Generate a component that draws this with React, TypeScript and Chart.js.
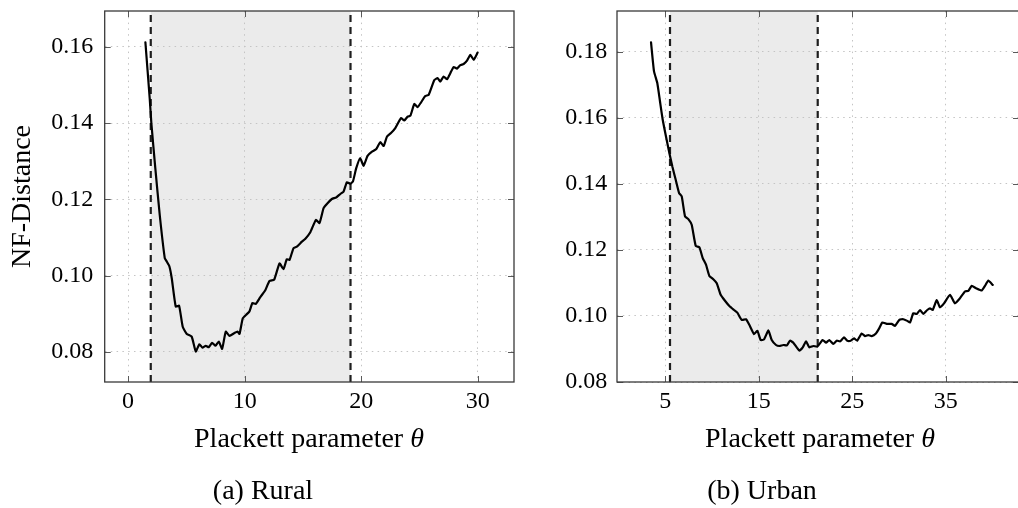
import React, { useEffect, useRef } from 'react';
import { Chart, registerables } from 'chart.js';

Chart.register(...registerables);

// ---------- data ----------
const ruralTheta = [
  1.49, 1.86, 2.0, 2.34, 2.72, 3.15, 3.3, 3.55, 3.75, 4.09, 4.38, 4.69, 5.04, 5.46, 5.81,
  6.12, 6.38, 6.67, 6.92, 7.21, 7.5, 7.78, 8.07, 8.38, 8.7, 9.1, 9.39, 9.56, 9.84, 10.19,
  10.41, 10.67, 10.96, 11.33, 11.76, 12.13, 12.53, 12.99, 13.33, 13.62, 13.85, 14.19, 14.48,
  14.91, 15.19, 15.62, 16.11, 16.42, 16.77, 17.11, 17.48, 17.85, 18.2, 18.48, 18.77, 19.06,
  19.29, 19.57, 19.91, 20.2, 20.54, 20.92, 21.29, 21.63, 21.92, 22.21, 22.55, 22.92, 23.41,
  23.69, 23.98, 24.21, 24.55, 24.83, 25.12, 25.49, 25.78, 26.27, 26.55, 26.78, 27.06, 27.36,
  27.64, 27.92, 28.21, 28.5, 28.78, 29.07, 29.36, 29.64, 29.98,
];
const ruralDist = [
  0.1612, 0.1465, 0.14, 0.1282, 0.1159, 0.1046, 0.1038, 0.1024, 0.0993, 0.0919, 0.0921, 0.0866,
  0.0847, 0.084, 0.0801, 0.082, 0.0811, 0.0816, 0.0812, 0.0824, 0.0816, 0.0827, 0.0808, 0.0853,
  0.0842, 0.0849, 0.0853, 0.0847, 0.0888, 0.0899, 0.0906, 0.0928, 0.0926, 0.0943, 0.0961,
  0.0986, 0.0989, 0.1032, 0.1017, 0.1043, 0.1041, 0.1072, 0.1076, 0.1089, 0.1096, 0.1113,
  0.1146, 0.1138, 0.1177, 0.119, 0.1201, 0.1205, 0.1214, 0.122, 0.1245, 0.1241, 0.1247,
  0.1282, 0.1308, 0.1288, 0.1314, 0.1325, 0.1332, 0.135, 0.134, 0.1365, 0.1374, 0.1387,
  0.1413, 0.1407, 0.1417, 0.1419, 0.145, 0.1442, 0.1454, 0.1471, 0.1474, 0.1513, 0.1518,
  0.1509, 0.1522, 0.1515, 0.1531, 0.1547, 0.1543, 0.1552, 0.1555, 0.1564, 0.1579, 0.1566,
  0.1585,
];
const urbanTheta = [
  3.47, 3.79, 4.14, 4.43, 4.72, 5.07, 5.43, 5.75, 6.11, 6.47, 6.75, 7.11, 7.46, 7.82, 8.25,
  8.64, 9.0, 9.35, 9.71, 10.13, 10.5, 10.92, 11.38, 11.85, 12.35, 12.7, 13.17, 13.63, 13.98,
  14.49, 14.84, 15.2, 15.56, 16.02, 16.38, 16.84, 17.19, 17.62, 18.0, 18.34, 18.69, 19.33,
  19.7, 20.05, 20.4, 20.83, 21.26, 21.83, 22.19, 22.54, 22.97, 23.33, 23.7, 24.11, 24.47,
  24.83, 25.18, 25.53, 26.0, 26.36, 26.71, 27.07, 27.53, 27.89, 28.21, 28.68, 29.21, 29.57,
  30.03, 30.45, 30.88, 31.17, 31.52, 31.89, 32.24, 32.59, 33.02, 33.31, 33.6, 34.03, 34.38,
  34.81, 35.45, 35.98, 36.45, 37.05, 37.41, 37.77, 38.23, 38.84, 39.19, 39.55, 40.02,
];
const urbanDist = [
  0.1828, 0.174, 0.1705, 0.1649, 0.1594, 0.1543, 0.1493, 0.1452, 0.1412, 0.1372, 0.1362,
  0.1301, 0.1293, 0.1276, 0.1212, 0.1208, 0.1175, 0.1155, 0.1121, 0.1111, 0.1099, 0.1064,
  0.1046, 0.103, 0.1018, 0.101, 0.0988, 0.099, 0.0973, 0.0945, 0.0955, 0.0927, 0.0929,
  0.0956, 0.0927, 0.0912, 0.0909, 0.0912, 0.0911, 0.0925, 0.0919, 0.0895, 0.0905, 0.0923,
  0.0905, 0.0909, 0.0907, 0.0927, 0.0919, 0.0927, 0.0915, 0.0925, 0.0923, 0.0935, 0.0925,
  0.0925, 0.0932, 0.0925, 0.0947, 0.0939, 0.0942, 0.0939, 0.0947, 0.0963, 0.098, 0.0976,
  0.0976, 0.097, 0.0988, 0.099, 0.0985, 0.098, 0.1008, 0.1006, 0.1018, 0.1006, 0.1018,
  0.1023, 0.1018, 0.1048, 0.1026, 0.1038, 0.1064, 0.1038, 0.1051, 0.1074, 0.1076, 0.1091,
  0.1084, 0.1077, 0.1091, 0.1107, 0.1094,
];

const ruralBand = [1.95, 19.08];
const urbanBand = [5.5, 21.3];

const ruralXTicks = [0, 10, 20, 30];
const ruralYTicks = [0.08, 0.1, 0.12, 0.14, 0.16];
const urbanXTicks = [5, 15, 25, 35];
const urbanYTicks = [0.08, 0.1, 0.12, 0.14, 0.16, 0.18];

const ruralXRange = [-2.0, 33.1];
const ruralYRange = [0.0721, 0.1694];
const urbanXRange = [-0.17, 42.83];
const urbanYRange = [0.08, 0.1923];

const xTitleText = 'Plackett parameter ';
const xTitleSymbol = 'θ';
const yTitle = 'NF-Distance';
const captions = ['(a) Rural', '(b) Urban'];

// ---------- styling ----------
const FONT = "'Liberation Serif', 'Times New Roman', serif";
const TICK_SIZE = 24;
const TITLE_SIZE = 28;
const CANVAS_H = 508;

const decorPlugin = {
  id: 'decor',
  beforeDraw(chart: any, _args: any, opts: any) {
    const { ctx, chartArea: a, scales } = chart;
    const band = opts.band as number[];
    if (!band) return;
    const x0 = scales.x.getPixelForValue(band[0]);
    const x1 = scales.x.getPixelForValue(band[1]);
    ctx.save();
    ctx.fillStyle = '#ebebeb';
    ctx.fillRect(x0, a.top, x1 - x0, a.bottom - a.top);
    ctx.restore();
  },
  afterDraw(chart: any) {
    const { ctx, chartArea: a, scales } = chart;
    ctx.save();
    ctx.strokeStyle = '#5a5a5a';
    ctx.lineWidth = 1;
    const L = 6;
    ctx.beginPath();
    for (const t of scales.x.ticks) {
      const px = Math.round(scales.x.getPixelForValue(t.value)) + 0.5;
      ctx.moveTo(px, a.bottom);
      ctx.lineTo(px, a.bottom - L);
      ctx.moveTo(px, a.top);
      ctx.lineTo(px, a.top + L);
    }
    for (const t of scales.y.ticks) {
      const py = Math.round(scales.y.getPixelForValue(t.value)) + 0.5;
      ctx.moveTo(a.left, py);
      ctx.lineTo(a.left + L, py);
      ctx.moveTo(a.right, py);
      ctx.lineTo(a.right - L, py);
    }
    ctx.stroke();
    ctx.strokeStyle = '#3a3a3a';
    ctx.lineWidth = 1.3;
    ctx.strokeRect(a.left, a.top, a.right - a.left, a.bottom - a.top);
    ctx.restore();
  },
};

type PanelProps = {
  theta: number[];
  dist: number[];
  band: number[];
  xTicks: number[];
  yTicks: number[];
  xRange: number[];
  yRange: number[];
  showYTitle: boolean;
  yAxisWidth: number;
  yTickPad: number;
  padRight: number;
  width: number;
  left: number;
};

function Panel(p: PanelProps) {
  const ref = useRef<HTMLCanvasElement | null>(null);
  useEffect(() => {
    if (!ref.current) return;
    const curve = p.theta.map((t, i) => ({ x: t, y: p.dist[i] }));
    const dashed = (v: number) => [
      { x: v, y: p.yRange[0] },
      { x: v, y: p.yRange[1] },
    ];
    const xAxisHeight = 73.1;
    const dashStyle = {
      borderColor: '#1e1e1e',
      borderWidth: 2.2,
      borderDash: [7, 5],
      pointRadius: 0,
      fill: false,
      order: 1,
    };
    const chart = new Chart(ref.current, {
      type: 'line',
      data: {
        datasets: [
          {
            data: curve,
            borderColor: '#000',
            borderWidth: 2.2,
            borderJoinStyle: 'round',
            borderCapStyle: 'round',
            pointRadius: 0,
            tension: 0.15,
            fill: false,
            order: 0,
          },
          { data: dashed(p.band[0]), ...dashStyle },
          { data: dashed(p.band[1]), ...dashStyle },
        ],
      },
      options: {
        responsive: false,
        animation: false,
        events: [],
        layout: {
          padding: { left: 0, top: 11, right: p.padRight, bottom: 126 - xAxisHeight },
        },
        plugins: {
          legend: { display: false },
          tooltip: { enabled: false },
          title: { display: false },
          decor: { band: p.band },
        } as any,
        scales: {
          x: {
            type: 'linear',
            min: p.xRange[0],
            max: p.xRange[1],
            border: { display: false, dash: [1.5, 4.3] },
            grid: { color: '#c4c4c4', lineWidth: 1, drawTicks: false },
            ticks: {
              autoSkip: false,
              maxRotation: 0,
              padding: 5.3,
              color: '#000',
              font: { family: FONT, size: TICK_SIZE },
              callback: (v: any) => String(v),
            },
            title: { display: false },
            afterBuildTicks: (s: any) => {
              s.ticks = p.xTicks.map((v) => ({ value: v }));
            },
            afterFit: (s: any) => {
              s.height = xAxisHeight;
              s.paddingLeft = 0;
              s.paddingRight = 0;
            },
          },
          y: {
            type: 'linear',
            min: p.yRange[0],
            max: p.yRange[1],
            border: { display: false, dash: [1.5, 4.3] },
            grid: { color: '#c4c4c4', lineWidth: 1, drawTicks: false },
            ticks: {
              autoSkip: false,
              padding: p.yTickPad,
              color: '#000',
              font: { family: FONT, size: TICK_SIZE },
              callback: (v: any) => Number(v).toFixed(2),
            },
            title: {
              display: p.showYTitle,
              text: yTitle,
              color: '#000',
              font: { family: FONT, size: TITLE_SIZE },
              padding: { top: 6.2, bottom: 0 },
            },
            afterBuildTicks: (s: any) => {
              s.ticks = p.yTicks.map((v) => ({ value: v }));
            },
            afterFit: (s: any) => {
              s.width = p.yAxisWidth;
              s.paddingTop = 0;
              s.paddingBottom = 0;
            },
          },
        },
      } as any,
      plugins: [decorPlugin as any],
    });
    return () => chart.destroy();
  }, []);
  return (
    <canvas
      ref={ref}
      width={p.width}
      height={CANVAS_H}
      style={{ position: 'absolute', left: p.left, top: 0, width: p.width, height: CANVAS_H }}
    />
  );
}

const textStyle = (center: number, top: number): React.CSSProperties => ({
  position: 'absolute',
  left: center - 160,
  width: 320,
  top,
  textAlign: 'center',
  fontFamily: FONT,
  fontSize: TITLE_SIZE,
  lineHeight: '34px',
  color: '#000',
  whiteSpace: 'nowrap',
});

export default function App() {
  return (
    <div
      style={{
        position: 'absolute',
        left: 0,
        top: 0,
        width: 1018,
        height: 508,
        overflow: 'hidden',
        background: '#fff',
      }}
    >
      <Panel
        theta={ruralTheta}
        dist={ruralDist}
        band={ruralBand}
        xTicks={ruralXTicks}
        yTicks={ruralYTicks}
        xRange={ruralXRange}
        yRange={ruralYRange}
        showYTitle={true}
        yAxisWidth={104.7}
        yTickPad={11.4}
        padRight={6}
        width={520}
        left={0}
      />
      <Panel
        theta={urbanTheta}
        dist={urbanDist}
        band={urbanBand}
        xTicks={urbanXTicks}
        yTicks={urbanYTicks}
        xRange={urbanXRange}
        yRange={urbanYRange}
        showYTitle={false}
        yAxisWidth={97}
        yTickPad={9.7}
        padRight={1}
        width={500}
        left={520}
      />
      <div style={textStyle(309, 421)}>
        {xTitleText}
        <i>{xTitleSymbol}</i>
      </div>
      <div style={textStyle(820, 421)}>
        {xTitleText}
        <i>{xTitleSymbol}</i>
      </div>
      <div style={textStyle(263, 473)}>{captions[0]}</div>
      <div style={textStyle(762, 473)}>{captions[1]}</div>
    </div>
  );
}
